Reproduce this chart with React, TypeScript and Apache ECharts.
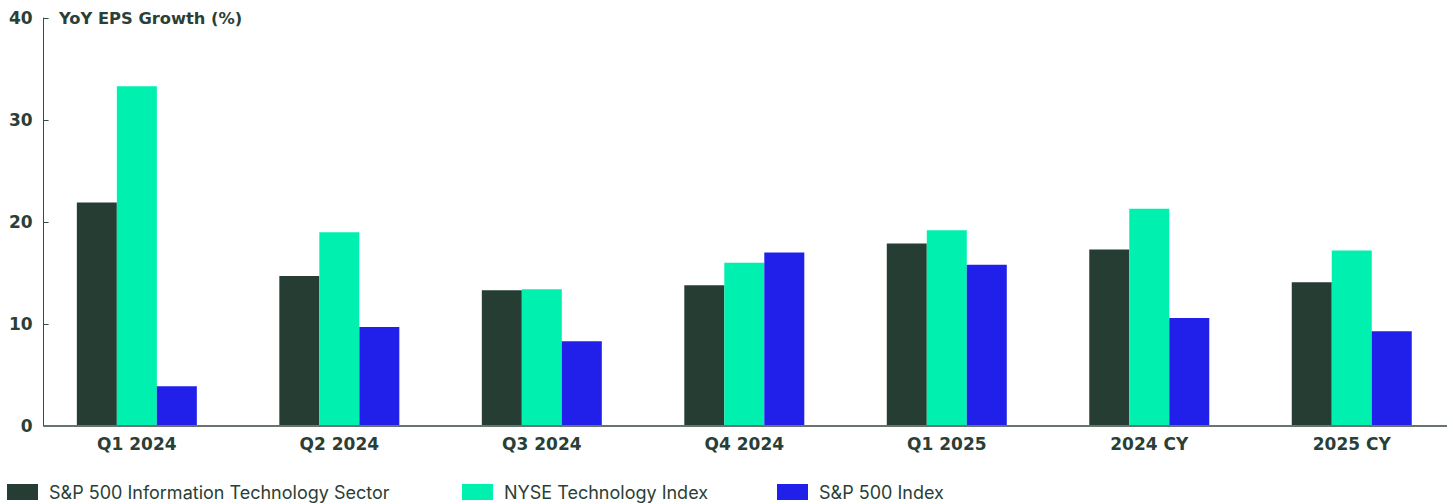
import React, { useEffect, useRef } from "react";
import * as echarts from "echarts";

const categories = ["Q1 2024", "Q2 2024", "Q3 2024", "Q4 2024", "Q1 2025", "2024 CY", "2025 CY"];
const seriesNames = ["S&P 500 Information Technology Sector", "NYSE Technology Index", "S&P 500 Index"];
const itSector = [21.9, 14.7, 13.3, 13.8, 17.9, 17.3, 14.1];
const nyseTech = [33.3, 19.0, 13.4, 16.0, 19.2, 21.3, 17.2];
const sp500 = [3.9, 9.7, 8.3, 17.0, 15.8, 10.6, 9.3];
const yTicks = { min: 0, max: 40, interval: 10 };
const titleText = "YoY EPS Growth (%)";

const colors = ["#263d33", "#00f0b0", "#2020ea"];
const textColor = "#2a3f35";
const boldFont = "'DejaVu Sans', sans-serif";
const font = "Inter, 'Noto Sans', sans-serif";

export default function App() {
  const ref = useRef<HTMLDivElement>(null);
  useEffect(() => {
    document.body.style.margin = "0";
    const chart = echarts.init(ref.current!, undefined, { renderer: "svg" });
    const values = [itSector, nyseTech, sp500];
    const legendLefts = [7, 462, 777];
    chart.setOption({
      animation: false,
      textStyle: { fontFamily: font },
      title: {
        text: titleText,
        left: 59,
        top: 10,
        padding: 0,
        textStyle: { fontSize: 16.3, fontWeight: "bold", color: textColor, fontFamily: boldFont },
      },
      legend: seriesNames.map((n, i) => ({
        data: [n],
        left: legendLefts[i],
        top: 483,
        padding: 0,
        itemWidth: 31,
        itemHeight: 16,
        itemGap: 10,
        icon: "rect",
        selectedMode: false,
        textStyle: { fontSize: 18, color: textColor, fontFamily: font, padding: [0, 0, 0, 6] },
      })),
      grid: { left: 35.6, right: -2.4, top: 18, bottom: 78 },
      xAxis: {
        type: "category",
        data: categories,
        axisLine: { show: false },
        axisTick: { show: false },
        axisLabel: { fontSize: 17, fontWeight: "bold", color: textColor, margin: 9, fontFamily: boldFont },
      },
      yAxis: {
        type: "value",
        min: yTicks.min,
        max: yTicks.max,
        interval: yTicks.interval,
        offset: -8,
        splitLine: { show: false },
        axisLine: { show: true, lineStyle: { color: "#3a4d44", width: 1 } },
        axisTick: { show: true, inside: true, length: 5, lineStyle: { color: "#3a4d44" } },
        axisLabel: { fontSize: 17, fontWeight: "bold", color: textColor, margin: 11, fontFamily: boldFont },
      },
      graphic: [
        {
          type: "line",
          shape: { x1: 43.5, y1: 426, x2: 1447, y2: 426 },
          style: { stroke: "#66756d", lineWidth: 2 },
          z: 10,
        },
      ],
      series: seriesNames.map((n, i) => ({
        name: n,
        type: "bar",
        data: values[i],
        barWidth: 40,
        barGap: "0%",
        itemStyle: { color: colors[i] },
      })),
    });
    return () => chart.dispose();
  }, []);
  return <div ref={ref} style={{ width: 1453, height: 504 }} />;
}
